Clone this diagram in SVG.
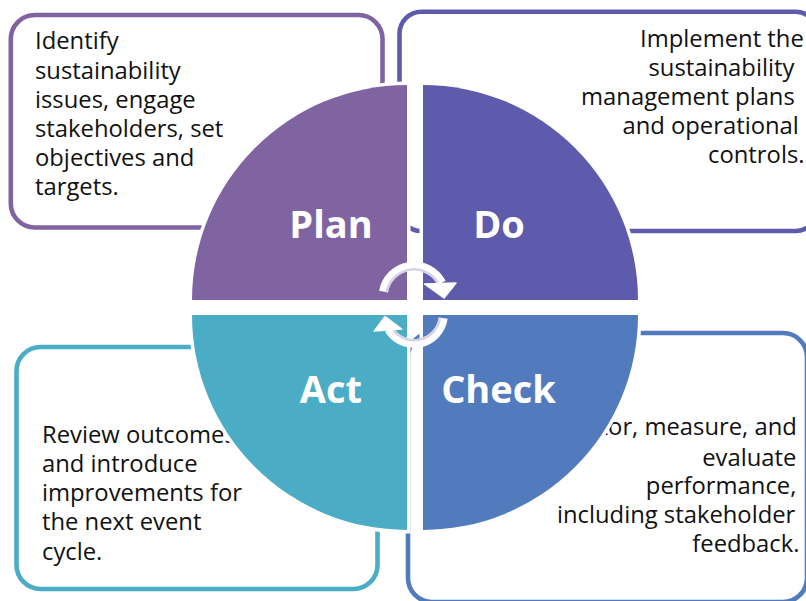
<svg xmlns="http://www.w3.org/2000/svg" width="806" height="601" viewBox="0 0 806 601">
  <style>
    .note { fill: #ffffff; stroke-width: 4.6; }
    .desc { font-family: "Open Sans", "Liberation Sans", sans-serif; font-size: 23.8px; fill: #111111; }
    .right { text-anchor: end; }
    .quad { stroke: #ffffff; stroke-width: 7; paint-order: stroke; stroke-linejoin: miter; }
    .label { font-family: "Open Sans", "Liberation Sans", sans-serif; font-weight: 700; font-size: 38px; fill: #ffffff; text-anchor: middle; }
    .arc-body { fill: none; stroke: #ffffff; stroke-width: 9; }
    .arc-shade { fill: none; stroke: #d6d2e6; stroke-width: 2.4; }
    .head { fill: #ffffff; stroke: #ffffff; stroke-width: 1.5; stroke-linejoin: round; }
  </style>

  <!-- description callouts, drawn beneath the cycle wheel -->
  <g id="plan-note">
    <rect class="note" x="10.8" y="15" width="371.7" height="212.5" rx="24" stroke="#8064a2"/>
    <text class="desc" x="35">
      <tspan x="35" y="49.3">Identify</tspan>
      <tspan x="35" y="78.5">sustainability</tspan>
      <tspan x="35" y="107.7">issues, engage</tspan>
      <tspan x="35" y="136.9">stakeholders, set</tspan>
      <tspan x="35" y="166.1">objectives and</tspan>
      <tspan x="35" y="195.3">targets.</tspan>
    </text>
  </g>

  <g id="do-note">
    <rect class="note" x="399.5" y="11.7" width="418" height="219.3" rx="22" stroke="#5e5bad"/>
    <text class="desc right">
      <tspan x="810" y="46.7">Implement the</tspan>
      <tspan x="800.5" y="75.6">sustainability</tspan>
      <tspan x="801" y="104.6">management plans</tspan>
      <tspan x="805" y="133.6">and operational</tspan>
      <tspan x="804.5" y="162.7">controls.</tspan>
    </text>
  </g>

  <g id="act-note">
    <rect class="note" x="16.5" y="347" width="361" height="242" rx="24" stroke="#4bacc6"/>
    <text class="desc">
      <tspan x="42" y="442.7">Review outcomes</tspan>
      <tspan x="42" y="471.9">and introduce</tspan>
      <tspan x="42" y="501.1">improvements for</tspan>
      <tspan x="42" y="530.3">the next event</tspan>
      <tspan x="42" y="559.5">cycle.</tspan>
    </text>
  </g>

  <g id="check-note">
    <rect class="note" x="408" y="333" width="399" height="269" rx="24" stroke="#527bbd"/>
    <text class="desc right">
      <tspan x="803" y="435">Monitor, measure, and</tspan>
      <tspan x="802.5" y="465.7">evaluate</tspan>
      <tspan x="802.5" y="494.3">performance,</tspan>
      <tspan x="801.5" y="523.3">including stakeholder</tspan>
      <tspan x="799.5" y="552.3">feedback.</tspan>
    </text>
  </g>

  <!-- the four quarters of the cycle wheel -->
  <g id="plan">
    <path class="quad" fill="#8064a2" d="M407 300 L192 300 A215 215 0 0 1 407 85 Z"/>
    <text class="label" x="331" y="237.7">Plan</text>
  </g>
  <g id="do">
    <path class="quad" fill="#5e5bad" d="M423 300 L423 85 A215 215 0 0 1 638 300 Z"/>
    <text class="label" x="499" y="237.7">Do</text>
  </g>
  <g id="check">
    <path class="quad" fill="#527bbd" d="M423 315 L638 315 A215 215 0 0 1 423 530 Z"/>
    <text class="label" x="498.5" y="402.7">Check</text>
  </g>
  <g id="act">
    <path class="quad" fill="#4bacc6" d="M407 315 L407 530 A215 215 0 0 1 192 315 Z"/>
    <text class="label" x="331" y="402.7">Act</text>
  </g>

  <!-- circular arrows at the hub -->
  <g id="connectors">
    <path class="arc-body" d="M383.5 291.6 A31 31 0 0 1 441.6 282.9"/>
    <path class="arc-shade" d="M386.7 292.2 A27.8 27.8 0 0 1 438.8 284.4"/>
    <polygon class="head" points="424.5,284 456,283 444,298"/>
    <path class="arc-body" d="M443.2 318.1 A29.5 29.5 0 0 1 389 329.6"/>
    <path class="arc-shade" d="M440 317.6 A26.3 26.3 0 0 1 391.7 327.9"/>
    <polygon class="head" points="374.3,331 401.7,329 385,316.7"/>
  </g>
</svg>
